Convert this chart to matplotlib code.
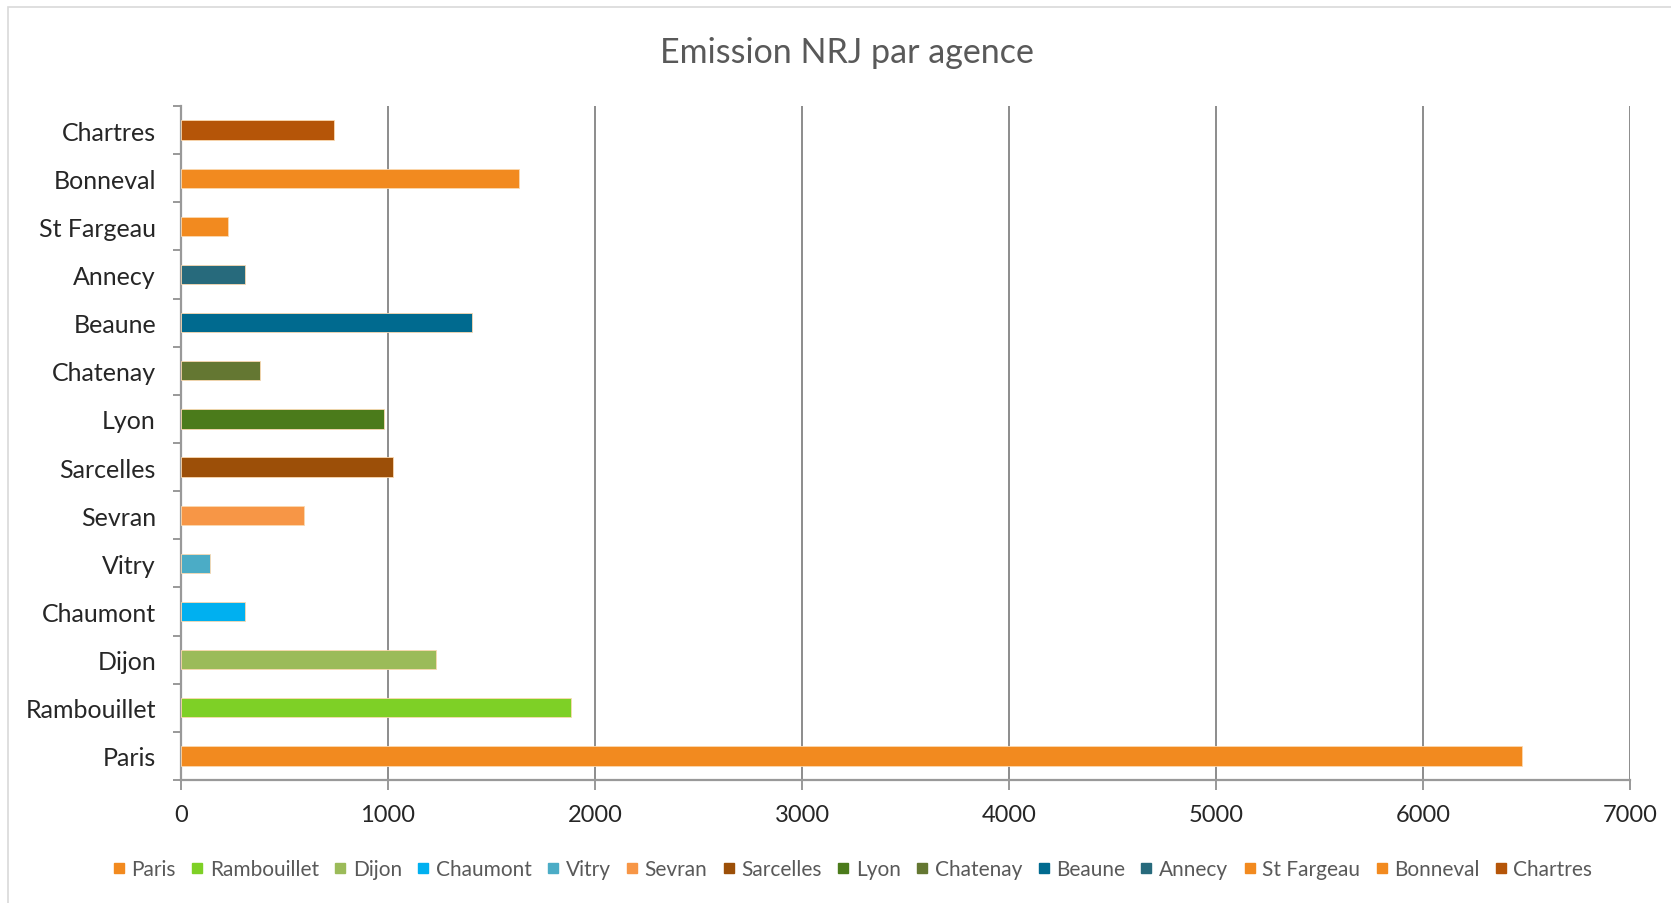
import matplotlib
matplotlib.use("Agg")
import matplotlib.pyplot as plt
from matplotlib.lines import Line2D
from matplotlib.patches import Rectangle

plt.rcParams["font.family"] = ["Lato", "DejaVu Sans"]

agences = ["Paris", "Rambouillet", "Dijon", "Chaumont", "Vitry", "Sevran", "Sarcelles",
           "Lyon", "Chatenay", "Beaune", "Annecy", "St Fargeau", "Bonneval", "Chartres"]
emissions = [6480, 1882, 1233, 310, 140, 594, 1026, 979, 381, 1407, 308, 227, 1632, 737]
couleurs = ["#F28A1F", "#7ED026", "#9BBB59", "#00B0F0", "#4BACC6", "#F79646", "#9C4F08",
            "#4B7B1B", "#647732", "#006A8F", "#276A7C", "#F28A1F", "#F28A1F", "#B55508"]
xticks = [0, 1000, 2000, 3000, 4000, 5000, 6000, 7000]

W, H = 1671, 904
fig = plt.figure(figsize=(W / 100, H / 100), dpi=100)
ax = fig.add_axes([181 / W, 1 - 781 / H, 1449 / W, 674 / H])

# chart border
fig.patches.append(Rectangle((8 / W, -0.01), 1.02, 1 - 8 / H + 0.01, transform=fig.transFigure,
                             fill=False, edgecolor="#d9d9d9", linewidth=1.2))

ypos = list(range(len(agences)))
ax.barh(ypos, emissions, height=0.4, color=couleurs, edgecolor="#fbd9b0", linewidth=0.6, zorder=3)

ax.set_xlim(0, 7000)
ax.set_ylim(-0.5, len(agences) - 0.5)
ax.set_xticks(xticks)
ax.set_xticklabels([str(v) for v in xticks], fontsize=17, color="#262626")
ax.set_yticks(ypos)
ax.set_yticklabels(agences, fontsize=18, color="#262626")
ax.set_yticks([i - 0.5 for i in range(len(agences) + 1)], minor=True)

ax.grid(axis="x", color="#8c8c8c", linewidth=1.4, zorder=0)
for s in ["top", "right"]:
    ax.spines[s].set_visible(False)
for s in ["left", "bottom"]:
    ax.spines[s].set_color("#999999")
    ax.spines[s].set_linewidth(1.6)
ax.tick_params(axis="y", which="major", length=0, pad=18)
ax.tick_params(axis="y", which="minor", length=6, width=1.4, color="#999999")
ax.tick_params(axis="x", length=7, width=1.4, color="#999999", pad=10)

fig.text(847 / W, 1 - 53 / H, "Emission NRJ par agence", ha="center", va="center",
         fontsize=24.5, color="#595959")

handles = [Line2D([], [], marker="s", linestyle="", markersize=6.5, color=c) for c in couleurs]
fig.legend(handles, agences, loc="center", bbox_to_anchor=(853 / W, 1 - 870 / H), ncol=len(agences),
           frameon=False, fontsize=15, handlelength=0.5, handletextpad=0.35, columnspacing=0.78,
           labelcolor="#595959")

fig.savefig("out.png", dpi=100)
